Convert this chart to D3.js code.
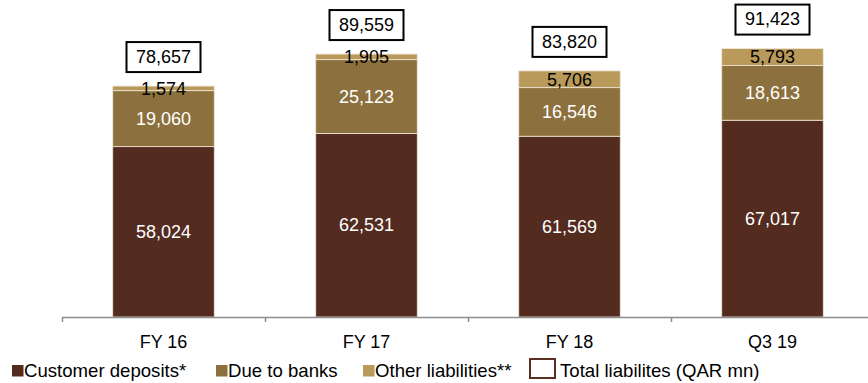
<!DOCTYPE html>
<html>
<head>
<meta charset="utf-8">
<script src="https://cdn.jsdelivr.net/npm/d3@7"></script>
<style>
  html, body { margin: 0; padding: 0; background: #fff; }
  svg { display: block; font-family: "Liberation Sans", Arial, sans-serif; }
</style>
</head>
<body>
<svg id="chart" width="868" height="383"></svg>
<script>
// Liability breakdown (QAR mn)
const categories = ["FY 16", "FY 17", "FY 18", "Q3 19"];
const customerDeposits = [58024, 62531, 61569, 67017];
const dueToBanks = [19060, 25123, 16546, 18613];
const otherLiabilities = [1574, 1905, 5706, 5793];
const totals = [78657, 89559, 83820, 91423];

const seriesNames = ["Customer deposits*", "Due to banks", "Other liabilities**"];
const seriesColors = ["#532b1f", "#8c713e", "#ba9a5a"];
const labelColors = ["#ffffff", "#ffffff", "#000000"];

const rows = categories.map((c, i) => ({
  cat: c,
  s0: customerDeposits[i],
  s1: dueToBanks[i],
  s2: otherLiabilities[i],
  total: totals[i]
}));

const svg = d3.select("#chart");
const baseY = 317;

const x = d3.scaleBand()
  .domain(categories)
  .range([62, 874])
  .paddingInner(0.5)
  .paddingOuter(0.25);

const y = d3.scaleLinear()
  .domain([0, 100000])
  .range([baseY, baseY - 293.6]);

const stack = d3.stack().keys(["s0", "s1", "s2"]);
const layers = stack(rows);

// stacked bars
const layerG = svg.append("g").selectAll("g")
  .data(layers)
  .join("g")
  .attr("fill", (d, i) => seriesColors[i]);

layerG.selectAll("rect")
  .data(d => d)
  .join("rect")
  .attr("x", d => x(d.data.cat))
  .attr("width", x.bandwidth())
  .attr("y", d => y(d[1]))
  .attr("height", d => y(d[0]) - y(d[1]))
  .attr("stroke", "#efe6d8")
  .attr("stroke-width", 0.8);

// segment value labels
layers.forEach((layer, li) => {
  svg.append("g").selectAll("text")
    .data(layer)
    .join("text")
    .attr("x", d => x(d.data.cat) + x.bandwidth() / 2)
    .attr("y", d => (y(d[0]) + y(d[1])) / 2 + 1.5)
    .attr("text-anchor", "middle")
    .attr("dominant-baseline", "middle")
    .attr("font-size", 18)
    .attr("fill", labelColors[li])
    .text(d => d3.format(",")(d[1] - d[0]));
});

// total boxes
const boxW = 74, boxH = 30, boxGap = 14;
const totalG = svg.append("g").selectAll("g")
  .data(rows)
  .join("g")
  .attr("transform", d => `translate(${x(d.cat) + x.bandwidth() / 2},${y(d.total) - boxGap - boxH / 2})`);

totalG.append("rect")
  .attr("x", -boxW / 2)
  .attr("y", -boxH / 2)
  .attr("width", boxW)
  .attr("height", boxH)
  .attr("fill", "#fff")
  .attr("stroke", "#000")
  .attr("stroke-width", 2);

totalG.append("text")
  .attr("text-anchor", "middle")
  .attr("dominant-baseline", "middle")
  .attr("y", 1)
  .attr("font-size", 18)
  .attr("fill", "#000")
  .text(d => d3.format(",")(d.total));

// category axis
const axisG = svg.append("g");
axisG.append("line")
  .attr("x1", 62).attr("x2", 868)
  .attr("y1", baseY + 0.5).attr("y2", baseY + 0.5)
  .attr("stroke", "#8c8c8c")
  .attr("stroke-width", 1.5);

const boundaries = categories.map(c => x(c) - x.step() * x.paddingInner() / 2);
boundaries[0] = 62;
boundaries.push(x(categories[categories.length - 1]) + x.bandwidth() + x.step() * x.paddingInner() / 2);

axisG.selectAll("line.tick")
  .data(boundaries)
  .join("line")
  .attr("class", "tick")
  .attr("x1", d => Math.round(d) + 0.5)
  .attr("x2", d => Math.round(d) + 0.5)
  .attr("y1", baseY)
  .attr("y2", baseY + 5)
  .attr("stroke", "#8c8c8c")
  .attr("stroke-width", 1.5);

axisG.selectAll("text")
  .data(categories)
  .join("text")
  .attr("x", d => x(d) + x.bandwidth() / 2)
  .attr("y", 348)
  .attr("text-anchor", "middle")
  .attr("font-size", 18)
  .attr("fill", "#000")
  .text(d => d);

// legend
const legendFont = 18.6;
const legendItems = [
  { name: seriesNames[0], color: seriesColors[0], sx: 12, tx: 24 },
  { name: seriesNames[1], color: seriesColors[1], sx: 216, tx: 228 },
  { name: seriesNames[2], color: seriesColors[2], sx: 363, tx: 375 }
];
const legendG = svg.append("g");
legendItems.forEach(it => {
  legendG.append("rect")
    .attr("x", it.sx).attr("y", 365)
    .attr("width", 11.5).attr("height", 11.5)
    .attr("fill", it.color);
  legendG.append("text")
    .attr("x", it.tx).attr("y", 377)
    .attr("font-size", legendFont)
    .attr("fill", "#000")
    .text(it.name);
});
legendG.append("rect")
  .attr("x", 530).attr("y", 359)
  .attr("width", 25).attr("height", 19)
  .attr("fill", "#fff")
  .attr("stroke", "#5a3022")
  .attr("stroke-width", 2);
legendG.append("text")
  .attr("x", 560).attr("y", 377)
  .attr("font-size", legendFont)
  .attr("fill", "#000")
  .text("Total liabilites (QAR mn)");
</script>
</body>
</html>
